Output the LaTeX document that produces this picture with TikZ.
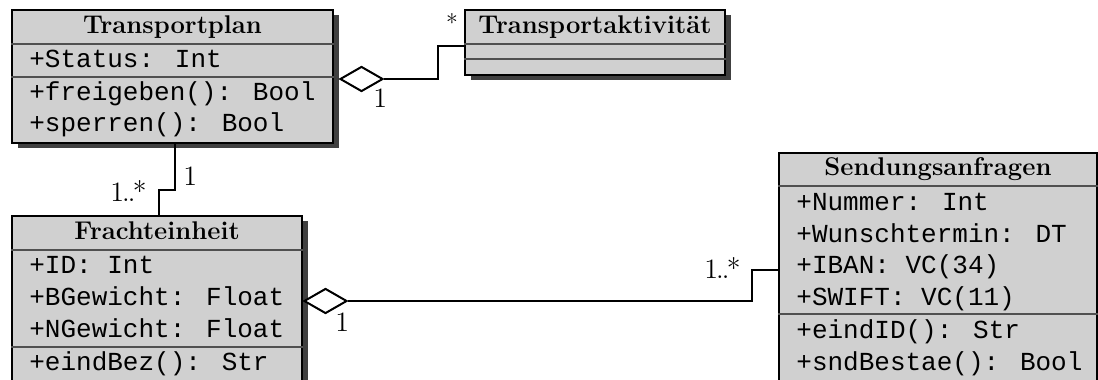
\documentclass[tikz,border=0pt]{standalone}
\usepackage{fontspec}
\newfontfamily\monof{Liberation Mono}
\usetikzlibrary{shadows,shapes.geometric,fit,calc}
\definecolor{boxfill}{RGB}{208,208,208}
\definecolor{shadowc}{RGB}{64,64,64}
\definecolor{sepc}{RGB}{80,80,80}
\newcommand{\manymult}{1\kern-1pt.\kern-1pt.\kern-1.2pt*}
\tikzset{
 cls/.style={draw=black, line width=1pt, fill=boxfill, inner sep=0pt,
   drop shadow={shadow xshift=3pt, shadow yshift=-2.5pt, fill=shadowc, opacity=1}},
 sepline/.style={draw=sepc, line width=0.6pt},
 ttl/.style={font=\fontsize{12.8}{14}\selectfont\bfseries, inner sep=0pt, anchor=base},
 attr/.style={font=\monof\fontsize{13}{14}\selectfont, inner sep=0pt, anchor=base west},
 conn/.style={line width=1pt, draw=black},
 agg/.style={diamond, draw=black, line width=1pt, fill=white, minimum width=21.5pt,
   minimum height=12.5pt, inner sep=0pt, anchor=west},
 mult/.style={font=\fontsize{14}{16}\selectfont, inner sep=0pt, anchor=base west},
 star/.style={font=\fontsize{12}{14}\selectfont, inner sep=0pt, anchor=center},
}
\begin{document}
\begin{tikzpicture}[x=0.5pt,y=-0.5pt]
\useasboundingbox (0,0) rectangle (1098,380);
\clip (0,0) rectangle (1098,380);
% Transportplan
\node[cls, fit={(12,10) (333,143)}] (tp) {};
\draw[sepline] (tp.west |- 0,44) -- (tp.east |- 0,44);
\draw[sepline] (tp.west |- 0,77) -- (tp.east |- 0,77);
\node[ttl] (tpt) at (tp.north |- 0,33) {Transportplan};
\node[attr] (tp1) at (29,68) {+Status: Int};
\node[attr] (tp2) at (29,100) {+freigeben(): Bool};
\node[attr] (tp3) at (29,131) {+sperren(): Bool};
% Transportaktivitaet
\node[cls, fit={(465,10) (725,75)}] (ta) {};
\draw[sepline] (ta.west |- 0,44) -- (ta.east |- 0,44);
\draw[sepline] (ta.west |- 0,59) -- (ta.east |- 0,59);
\node[ttl] (tat) at (ta.north |- 0,33) {Transportaktivität};
% Frachteinheit
\node[cls, fit={(12,216) (302,410)}] (fe) {};
\draw[sepline] (fe.west |- 0,250) -- (fe.east |- 0,250);
\draw[sepline] (fe.west |- 0,347) -- (fe.east |- 0,347);
\node[ttl] (fet) at (fe.north |- 0,239) {Frachteinheit};
\node[attr] (fe1) at (29,273) {+ID: Int};
\node[attr] (fe2) at (29,305) {+BGewicht: Float};
\node[attr] (fe3) at (29,337) {+NGewicht: Float};
\node[attr] (fe4) at (29,370) {+eindBez(): Str};
% Sendungsanfragen
\node[cls, fit={(779,153) (1097,420)}] (sa) {};
\draw[sepline] (sa.west |- 0,186) -- (sa.east |- 0,186);
\draw[sepline] (sa.west |- 0,314) -- (sa.east |- 0,314);
\node[ttl] (sat) at (sa.north |- 0,175) {Sendungsanfragen};
\node[attr] (sa1) at (796,210) {+Nummer: Int};
\node[attr] (sa2) at (796,242) {+Wunschtermin: DT};
\node[attr] (sa3) at (796,273) {+IBAN: VC(34)};
\node[attr] (sa4) at (796,305) {+SWIFT: VC(11)};
\node[attr] (sa5) at (796,338) {+eindID(): Str};
\node[attr] (sa6) at (796,370) {+sndBestae(): Bool};
% aggregations
\node[agg] (d1) at (339,79) {};
\draw[conn] (d1.east) -| (438,46) -- (ta.west |- 0,46);
\node[agg] (d2) at (303,301) {};
\draw[conn] (d2.east) -| (752,270) -- (sa.west |- 0,270);
\draw[conn] ([xshift=1.25pt]tp.south) -- ++(0,46) -| ([xshift=1pt]fe.north);
% multiplicities
\node[mult] (m1) at (373,107) {1};
\node[star] (m2) at (452,23) {*};
\node[mult] (m3) at (183,185) {1};
\node[mult] (m4) at (110,201) {\manymult};
\node[mult] (m5) at (335,331) {1};
\node[mult] (m6) at (704,278) {\manymult};
\end{tikzpicture}
\end{document}
